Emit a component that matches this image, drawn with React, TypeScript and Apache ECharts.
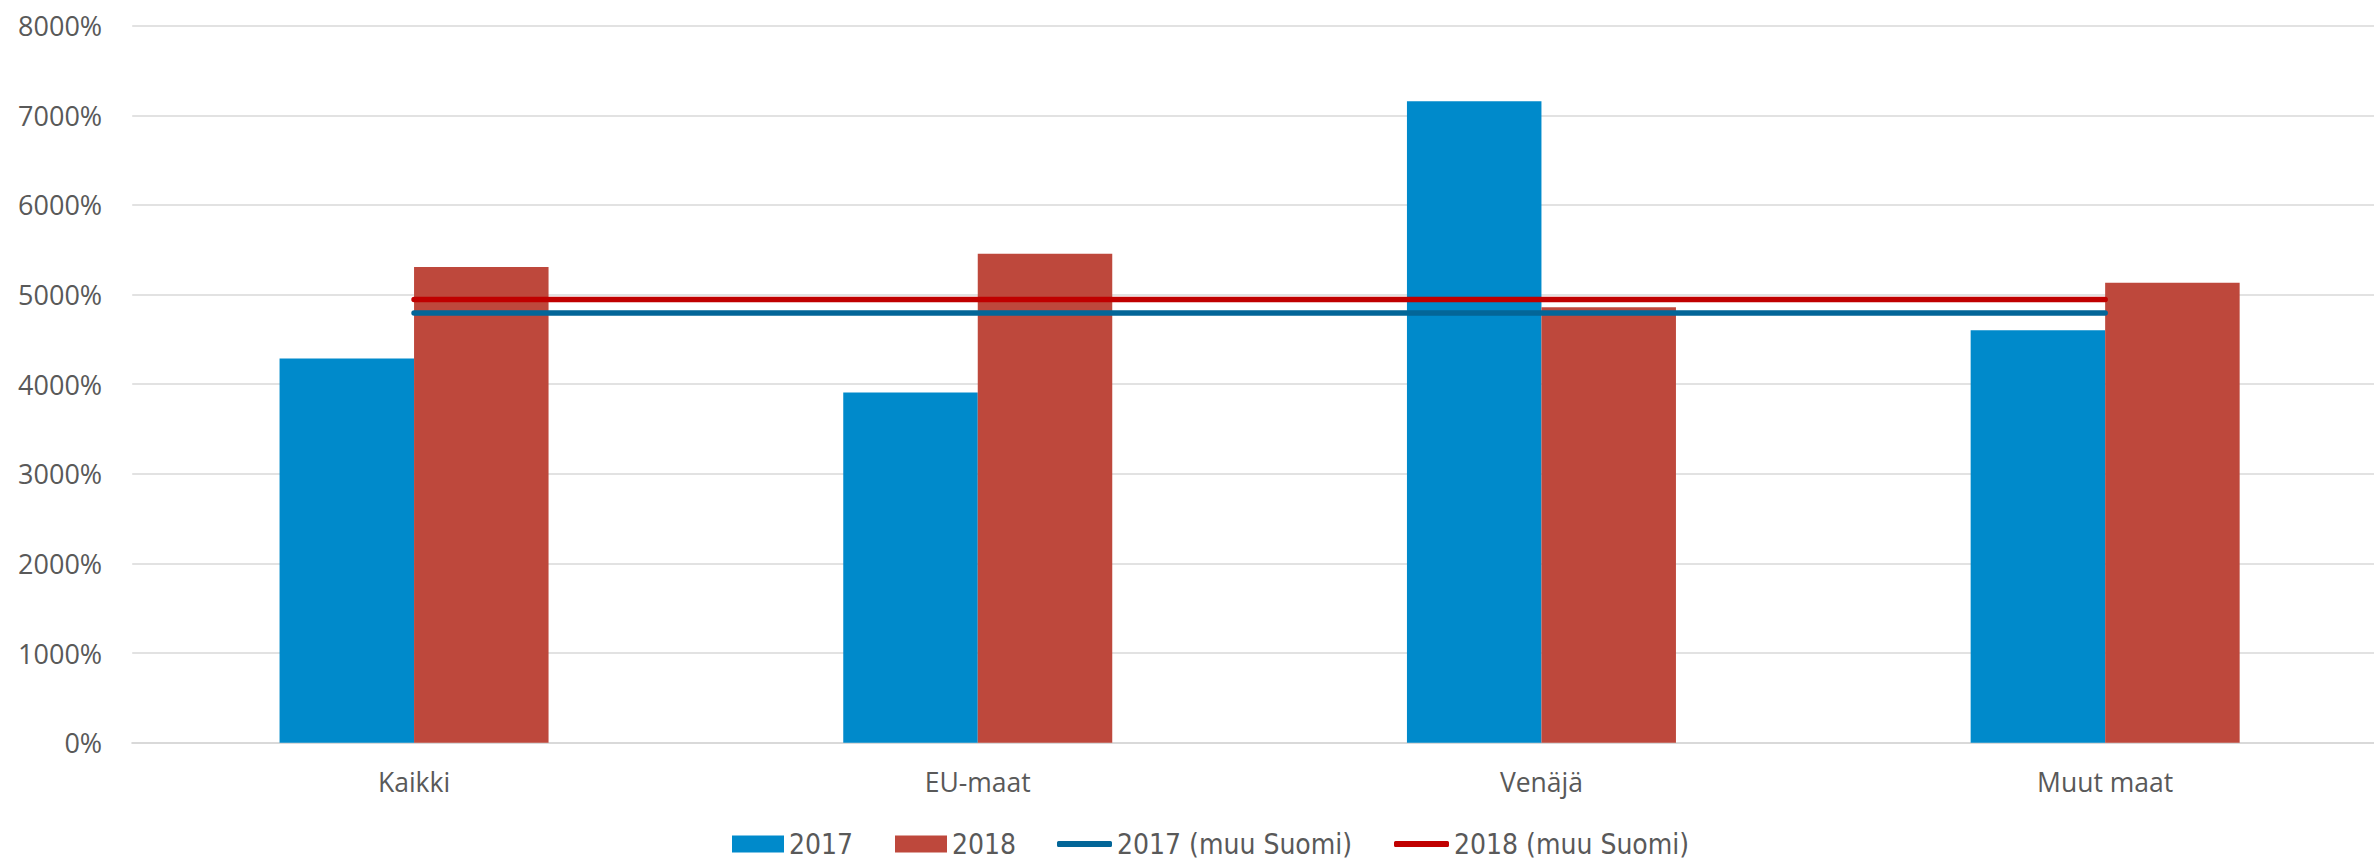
import React, { useEffect, useRef } from "react";
import * as echarts from "echarts";

const categories = ["Kaikki", "EU-maat", "Venäjä", "Muut maat"];
const values2017 = [4287, 3906, 7156, 4603];
const values2018 = [5309, 5455, 4858, 5131];
const muuSuomi2017 = [4795, 4795, 4795, 4795];
const muuSuomi2018 = [4944, 4944, 4944, 4944];
const yTicks = { min: 0, max: 8000, interval: 1000 };
const seriesNames = ["2017", "2018", "2017 (muu Suomi)", "2018 (muu Suomi)"];

const legendFont = '"DejaVu Sans Condensed", "DejaVu Sans", sans-serif';
const axisFont = '"Open Sans", "Noto Sans", sans-serif';

export default function App() {
  const ref = useRef<HTMLDivElement>(null);
  useEffect(() => {
    document.body.style.margin = "0";
    const chart = echarts.init(ref.current!, undefined, { renderer: "svg" });
    const legendLefts = [732, 895, 1057, 1394];
    chart.setOption({
      animation: false,
      backgroundColor: "#ffffff",
      grid: { left: 132.2, right: 0, top: 25.7, bottom: 119.3, containLabel: false },
      legend: seriesNames.map((n, i) => ({
        data: [i < 2 ? { name: n, icon: "rect" } : { name: n, icon: "roundRect" }],
        left: legendLefts[i],
        top: 830,
        itemWidth: i < 2 ? 52 : 55,
        itemHeight: i < 2 ? 17 : 6,
        itemGap: 0,
        padding: 0,
        textStyle: { fontFamily: legendFont, fontSize: 28, color: "#595959" },
      })),
      xAxis: {
        type: "category",
        data: categories,
        axisLine: { show: true, lineStyle: { color: "#d9d9d9", width: 2 } },
        axisTick: { show: false },
        axisLabel: { fontFamily: axisFont, fontSize: 26.5, color: "#595959", margin: 26 },
      },
      yAxis: {
        type: "value",
        min: yTicks.min,
        max: yTicks.max,
        interval: yTicks.interval,
        axisLine: { show: false },
        axisTick: { show: false },
        splitLine: { lineStyle: { color: "#d9d9d9", width: 1.7 } },
        axisLabel: {
          fontFamily: axisFont,
          fontSize: 27,
          color: "#595959",
          margin: 30,
          formatter: (v: number) => `${v}%`,
        },
      },
      series: [
        {
          name: seriesNames[0],
          type: "bar",
          data: values2017,
          barWidth: 134.5,
          barGap: "0%",
          itemStyle: { color: "#008acb" },
        },
        {
          name: seriesNames[1],
          type: "bar",
          data: values2018,
          barWidth: 134.5,
          barGap: "0%",
          itemStyle: { color: "#be483c" },
        },
        {
          name: seriesNames[2],
          type: "line",
          data: muuSuomi2017,
          symbol: "none",
          z: 5,
          lineStyle: { color: "#036698", width: 5.5, cap: "round" },
          itemStyle: { color: "#036698" },
        },
        {
          name: seriesNames[3],
          type: "line",
          data: muuSuomi2018,
          symbol: "none",
          z: 5,
          lineStyle: { color: "#c00000", width: 5.5, cap: "round" },
          itemStyle: { color: "#c00000" },
        },
      ],
    });
    return () => chart.dispose();
  }, []);
  return (
    <div style={{ width: 2374, height: 862, overflow: "hidden", position: "relative" }}>
      <div ref={ref} style={{ width: 2387, height: 862 }} />
    </div>
  );
}
